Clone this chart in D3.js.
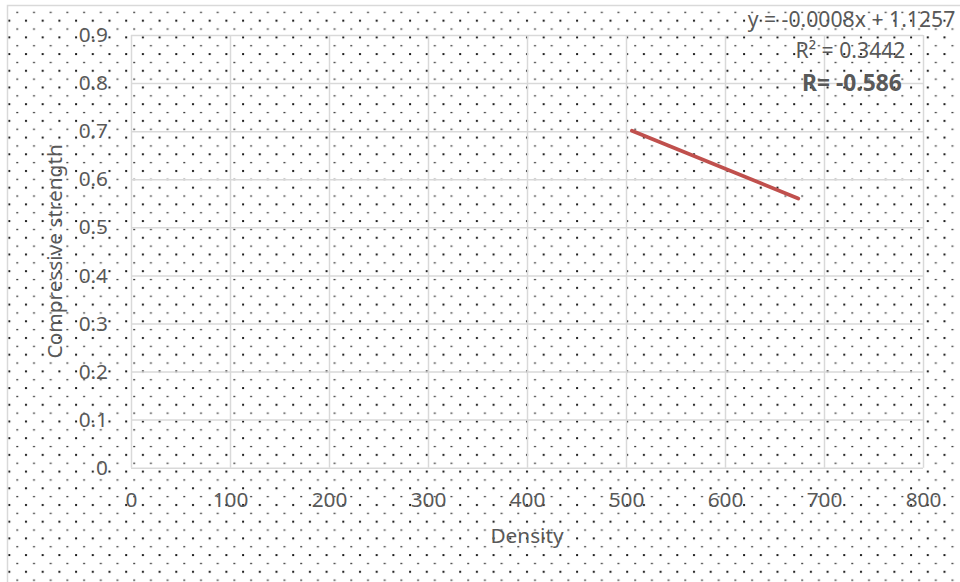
<!DOCTYPE html>
<html>
<head>
<meta charset="utf-8">
<script src="https://cdn.jsdelivr.net/npm/d3@7"></script>
<style>
  html, body { margin: 0; padding: 0; background: #fff; }
  svg { display: block; }
  text { font-family: "Noto Sans", "Open Sans", sans-serif; }
</style>
</head>
<body>
<svg id="chart" width="960" height="582"></svg>
<script>
// ---- data ----
const xTicks = [0, 100, 200, 300, 400, 500, 600, 700, 800];
const yTicks = [0, 0.1, 0.2, 0.3, 0.4, 0.5, 0.6, 0.7, 0.8, 0.9];
const trendX = [506, 674];
const trendY = [0.701, 0.560];
const xTitle = "Density";
const yTitle = "Compressive strength";
const eqLines = ["y = -0.0008x + 1.1257", "R² = 0.3442", "R= -0.586"];

// ---- layout ----
const W = 960, H = 582;
const pLeft = 131, pRight = 923, pTop = 35, pBottom = 467.7;
const gridColor = "#d9d9d9";
const textColor = "#595959";
const fontSize = 20.8;

const svg = d3.select("#chart");

// dotted pattern background
const defs = svg.append("defs");
const pat = defs.append("pattern")
  .attr("id", "dots")
  .attr("patternUnits", "userSpaceOnUse")
  .attr("x", 5.3).attr("y", 0)
  .attr("width", 16.7).attr("height", 16.7);
pat.append("rect").attr("x", 3).attr("y", 3).attr("width", 2).attr("height", 2).attr("fill", "#1a1a1a");
pat.append("rect").attr("x", 11).attr("y", 11.7).attr("width", 2).attr("height", 1.3).attr("fill", "#3a3a3a");

svg.append("rect").attr("x", 7.5).attr("y", 5.5).attr("width", W).attr("height", H)
  .attr("fill", "url(#dots)").attr("stroke", gridColor).attr("stroke-width", 1.5);

const x = d3.scaleLinear().domain([0, 800]).range([pLeft, pRight]);
const y = d3.scaleLinear().domain([0, 0.9]).range([pBottom, pTop]);

// grid lines
svg.append("g").attr("transform", `translate(0,${pBottom})`)
  .call(d3.axisBottom(x).tickValues(xTicks).tickSize(-(pBottom - pTop)).tickFormat(""))
  .call(g => g.select(".domain").remove())
  .call(g => g.selectAll("line").attr("stroke", gridColor).attr("stroke-width", 1.5));
svg.append("g").attr("transform", `translate(${pLeft},0)`)
  .call(d3.axisLeft(y).tickValues(yTicks).tickSize(-(pRight - pLeft)).tickFormat(""))
  .call(g => g.select(".domain").remove())
  .call(g => g.selectAll("line").attr("stroke", gridColor).attr("stroke-width", 1.5));

// tick labels
svg.append("g").attr("transform", `translate(0,${pBottom})`)
  .call(d3.axisBottom(x).tickValues(xTicks).tickSize(0).tickPadding(25).tickFormat(d3.format("d")))
  .call(g => g.select(".domain").remove())
  .call(g => g.selectAll("text").attr("fill", textColor).style("font-size", fontSize + "px")
    .style("font-family", '"Noto Sans", sans-serif'));
svg.append("g").attr("transform", `translate(${pLeft},0)`)
  .call(d3.axisLeft(y).tickValues(yTicks).tickSize(0).tickPadding(23).tickFormat(d => d === 0 ? "0" : d3.format(".1f")(d)))
  .call(g => g.select(".domain").remove())
  .call(g => g.selectAll("text").attr("fill", textColor).style("font-size", fontSize + "px")
    .style("font-family", '"Noto Sans", sans-serif'));

// axis titles
svg.append("text").attr("x", (pLeft + pRight) / 2).attr("y", 543)
  .attr("text-anchor", "middle").attr("fill", textColor).style("font-size", fontSize + "px").text(xTitle);
svg.append("text").attr("transform", `translate(62,${(pTop + pBottom) / 2}) rotate(-90)`)
  .attr("text-anchor", "middle").attr("fill", textColor).style("font-size", fontSize + "px").text(yTitle);

// trend line
const pts = trendX.map((d, i) => [d, trendY[i]]);
svg.append("path").datum(pts)
  .attr("d", d3.line().x(d => x(d[0])).y(d => y(d[1])))
  .attr("fill", "none").attr("stroke", "#c0504d").attr("stroke-width", 3.8).attr("stroke-linecap", "round");

// equation labels
const eqY = [26.6, 58, 91.3];
const eqX = [851.5, 850.5, 852];
const eqSize = [21.2, 21.2, 22.8];
eqLines.forEach((t, i) => {
  svg.append("text").attr("x", eqX[i]).attr("y", eqY[i]).attr("text-anchor", "middle")
    .attr("fill", textColor).style("font-size", eqSize[i] + "px")
    .style("font-weight", i === 2 ? "bold" : "normal").text(t);
});
</script>
</body>
</html>
